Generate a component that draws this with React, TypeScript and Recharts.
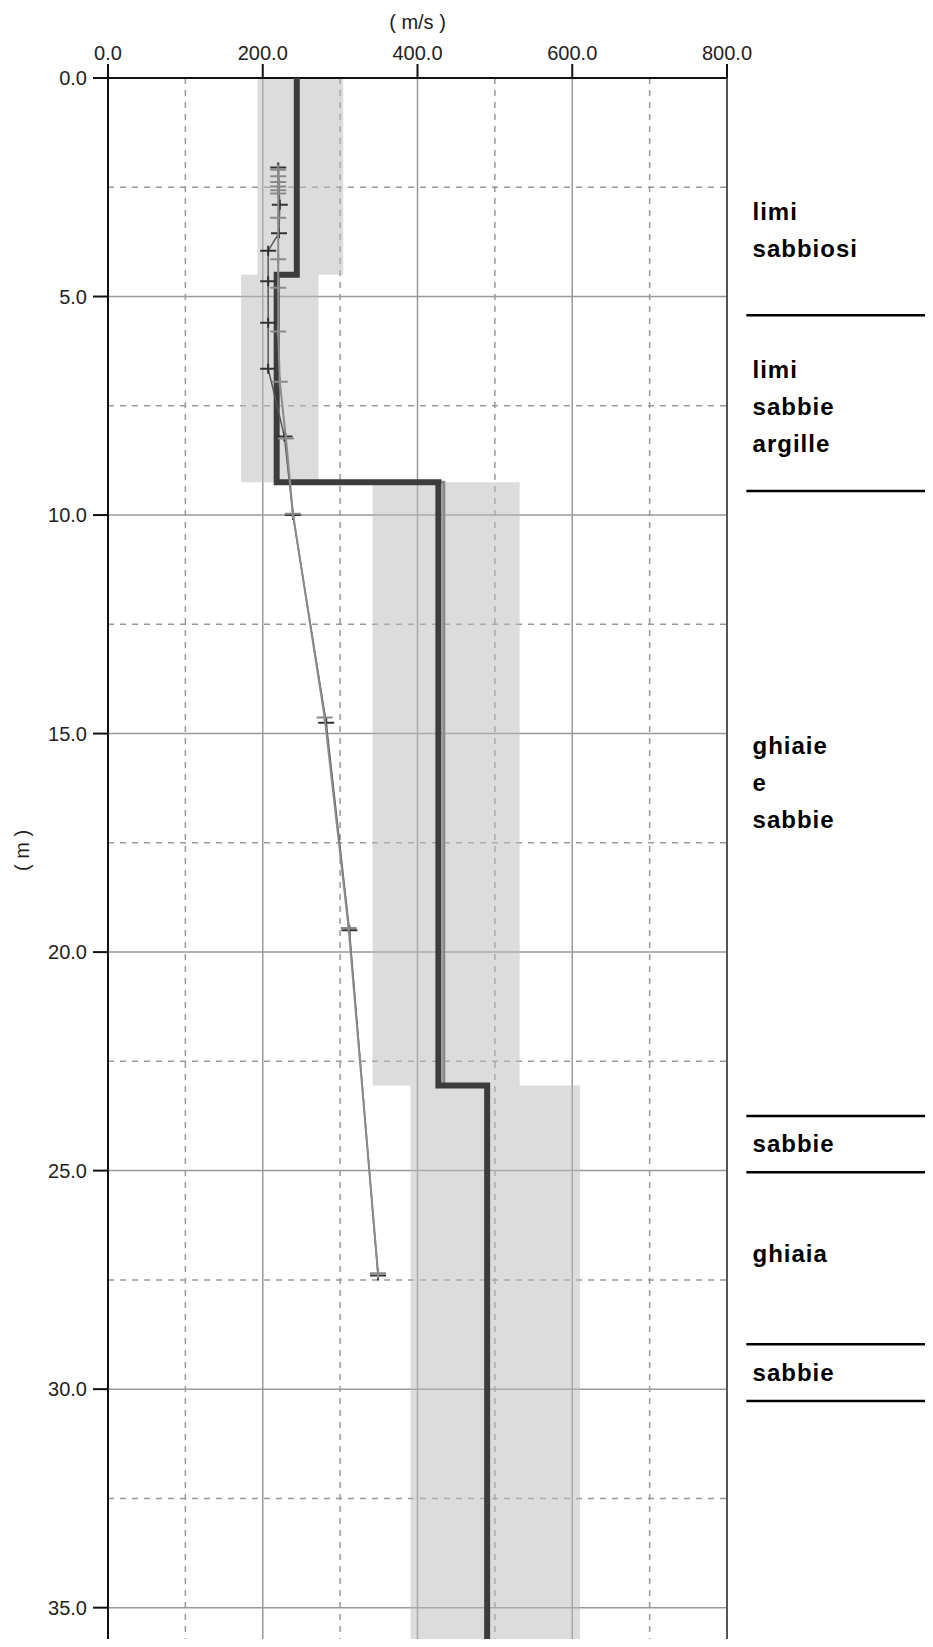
import { ScatterChart, Scatter, XAxis, YAxis, CartesianGrid, ReferenceArea, ReferenceLine, ReferenceDot, Label } from 'recharts'

// velocità Vs (m/s) in orizzontale, profondità (m) in verticale
const X_TICKS = [0, 200, 400, 600, 800]
const X_MAJOR_GRID = [200, 400, 600]
const X_MINOR_GRID = [100, 300, 500, 700]
const Y_TICKS = [0, 5, 10, 15, 20, 25, 30, 35]
const Y_MINOR_GRID = [2.5, 7.5, 12.5, 17.5, 22.5, 27.5, 32.5]
const Y_MAX = 35.9

// modello a strati
const layerTop = [0, 4.5, 9.25, 23.05]
const layerBottom = [4.5, 9.25, 23.05, 35.9]
const vsModel = [244, 218, 427, 490]
const vsAlt = [244, 219, 434, 491]
const vsMin = [193, 172, 342, 391]
const vsMax = [304, 272, 532, 610]

// punti misurati (croci scure)
const measDepth = [2.05, 2.9, 3.55, 3.95, 4.65, 5.6, 6.65, 8.2, 10.0, 14.75, 19.5, 27.4]
const measVs = [220, 222, 221, 207, 207, 207, 207, 228, 239, 282, 312, 349]

// curva teorica (croci grigie)
const fitDepth = [2.1, 2.25, 2.38, 2.48, 2.57, 2.64, 3.2, 4.15, 4.8, 5.8, 6.95, 8.25, 9.97, 14.63, 19.45, 27.35]
const fitVs = [220, 220, 220, 220, 220, 220, 220, 220, 220, 220, 222, 230, 239, 280, 311, 349]

// colonna stratigrafica
const litoText = [['limi', 'sabbiosi'], ['limi', 'sabbie', 'argille'], ['ghiaie', 'e', 'sabbie'], ['sabbie'], ['ghiaia'], ['sabbie']]
const litoDepth = [3.04, 6.66, 15.27, 24.37, 26.9, 29.62]
const litoBreaks = [5.43, 9.45, 23.75, 25.04, 28.97, 30.27]
const LITO_X = 833
const BREAK_X = [825, 1070]

const FONT = '"Liberation Sans", Arial, sans-serif'

const toSteps = (vs: number[]) =>
  vs.flatMap((v, i) => [{ v, d: layerTop[i] }, { v, d: layerBottom[i] }])

const toPoints = (vs: number[], depth: number[]) => vs.map((v, i) => ({ v, d: depth[i] }))

const cross = (color: string) => (p: any) => (
  <path d={`M${p.cx - 8},${p.cy}H${p.cx + 8}M${p.cx},${p.cy - 5}V${p.cy + 5}`} stroke={color} strokeWidth={2} fill="none" />
)

const noDot = () => <g />

export default function App() {
  const model = toSteps(vsModel)
  const alt = toSteps(vsAlt)
  const meas = toPoints(measVs, measDepth)
  const fit = toPoints(fitVs, fitDepth)

  return (
    <div style={{ margin: -8, width: 933, height: 1647, overflow: 'hidden', background: '#fff' }}>
      <ScatterChart width={933} height={1647} margin={{ top: 0, right: 206, bottom: 0, left: 0 }}>
        {vsMin.map((lo, i) => (
          <ReferenceArea key={'b' + i} x1={lo} x2={vsMax[i]} y1={layerTop[i]} y2={layerBottom[i]} fill="#b9b9b9" fillOpacity={0.5} stroke="none" ifOverflow="hidden" />
        ))}
        <CartesianGrid horizontalValues={Y_TICKS} verticalValues={X_MAJOR_GRID} stroke="#999" strokeWidth={1.5} />
        <CartesianGrid horizontalValues={Y_MINOR_GRID} verticalValues={X_MINOR_GRID} stroke="#999" strokeWidth={1.5} strokeDasharray="6 6" />
        <XAxis type="number" dataKey="v" orientation="top" domain={[0, 800]} ticks={X_TICKS} interval={0} height={78}
          tickFormatter={(v) => v.toFixed(1)} tickSize={14} tickMargin={4}
          axisLine={{ stroke: '#111', strokeWidth: 2 }} tickLine={{ stroke: '#111', strokeWidth: 2 }}
          tick={{ fontSize: 20, fill: '#222', fontFamily: FONT }}>
          <Label value="( m/s )" position="insideTop" offset={15} style={{ fontSize: 20, fill: '#222', fontFamily: FONT }} />
        </XAxis>
        <YAxis type="number" dataKey="d" reversed domain={[0, Y_MAX]} allowDataOverflow ticks={Y_TICKS} interval={0} width={108}
          tickFormatter={(v) => v.toFixed(1)} tickSize={15} tickMargin={6}
          axisLine={{ stroke: '#111', strokeWidth: 2 }} tickLine={{ stroke: '#111', strokeWidth: 2 }}
          tick={{ fontSize: 20, fill: '#222', fontFamily: FONT }}>
          <Label content={(p: any) => {
            const vb = p.viewBox
            const x = vb.x + 22
            const y = vb.y + vb.height / 2 - 12
            return <text x={x} y={y} transform={`rotate(-90 ${x} ${y})`} textAnchor="middle" dominantBaseline="central" fontSize={20} fill="#222" fontFamily={FONT}>( m )</text>
          }} />
        </YAxis>
        <ReferenceLine x={800} stroke="#555" strokeWidth={2} />

        <Scatter data={alt} shape={noDot} line={{ stroke: '#8a8a8a', strokeWidth: 3, strokeLinejoin: 'miter' }} isAnimationActive={false} />
        <Scatter data={model} shape={noDot} line={{ stroke: '#3c3c3c', strokeWidth: 6, strokeLinejoin: 'miter' }} isAnimationActive={false} />
        <Scatter data={meas} shape={cross('#333')} line={{ stroke: '#555', strokeWidth: 1.5 }} isAnimationActive={false} />
        <Scatter data={fit} shape={cross('#8a8a8a')} line={{ stroke: '#8a8a8a', strokeWidth: 2 }} isAnimationActive={false} />

        {litoBreaks.map((d, i) => (
          <ReferenceLine key={'s' + i} segment={[{ x: BREAK_X[0], y: d }, { x: BREAK_X[1], y: d }]} stroke="#000" strokeWidth={2.5} ifOverflow="visible" />
        ))}
        {litoText.map((lines, i) => (
          <ReferenceDot key={'t' + i} x={LITO_X} y={litoDepth[i]} r={0} fill="none" stroke="none" ifOverflow="visible"
            label={{
              content: (p: any) => {
                const vb = p.viewBox
                const cy = vb.y + vb.height / 2
                return (
                  <text x={vb.x} y={cy} fontSize={24} fontWeight="bold" letterSpacing={1} fill="#000" fontFamily={FONT}>
                    {lines.map((t, k) => (
                      <tspan key={k} x={vb.x} y={cy + k * 37} dy="0.36em">{t}</tspan>
                    ))}
                  </text>
                )
              },
            }} />
        ))}
      </ScatterChart>
    </div>
  )
}
